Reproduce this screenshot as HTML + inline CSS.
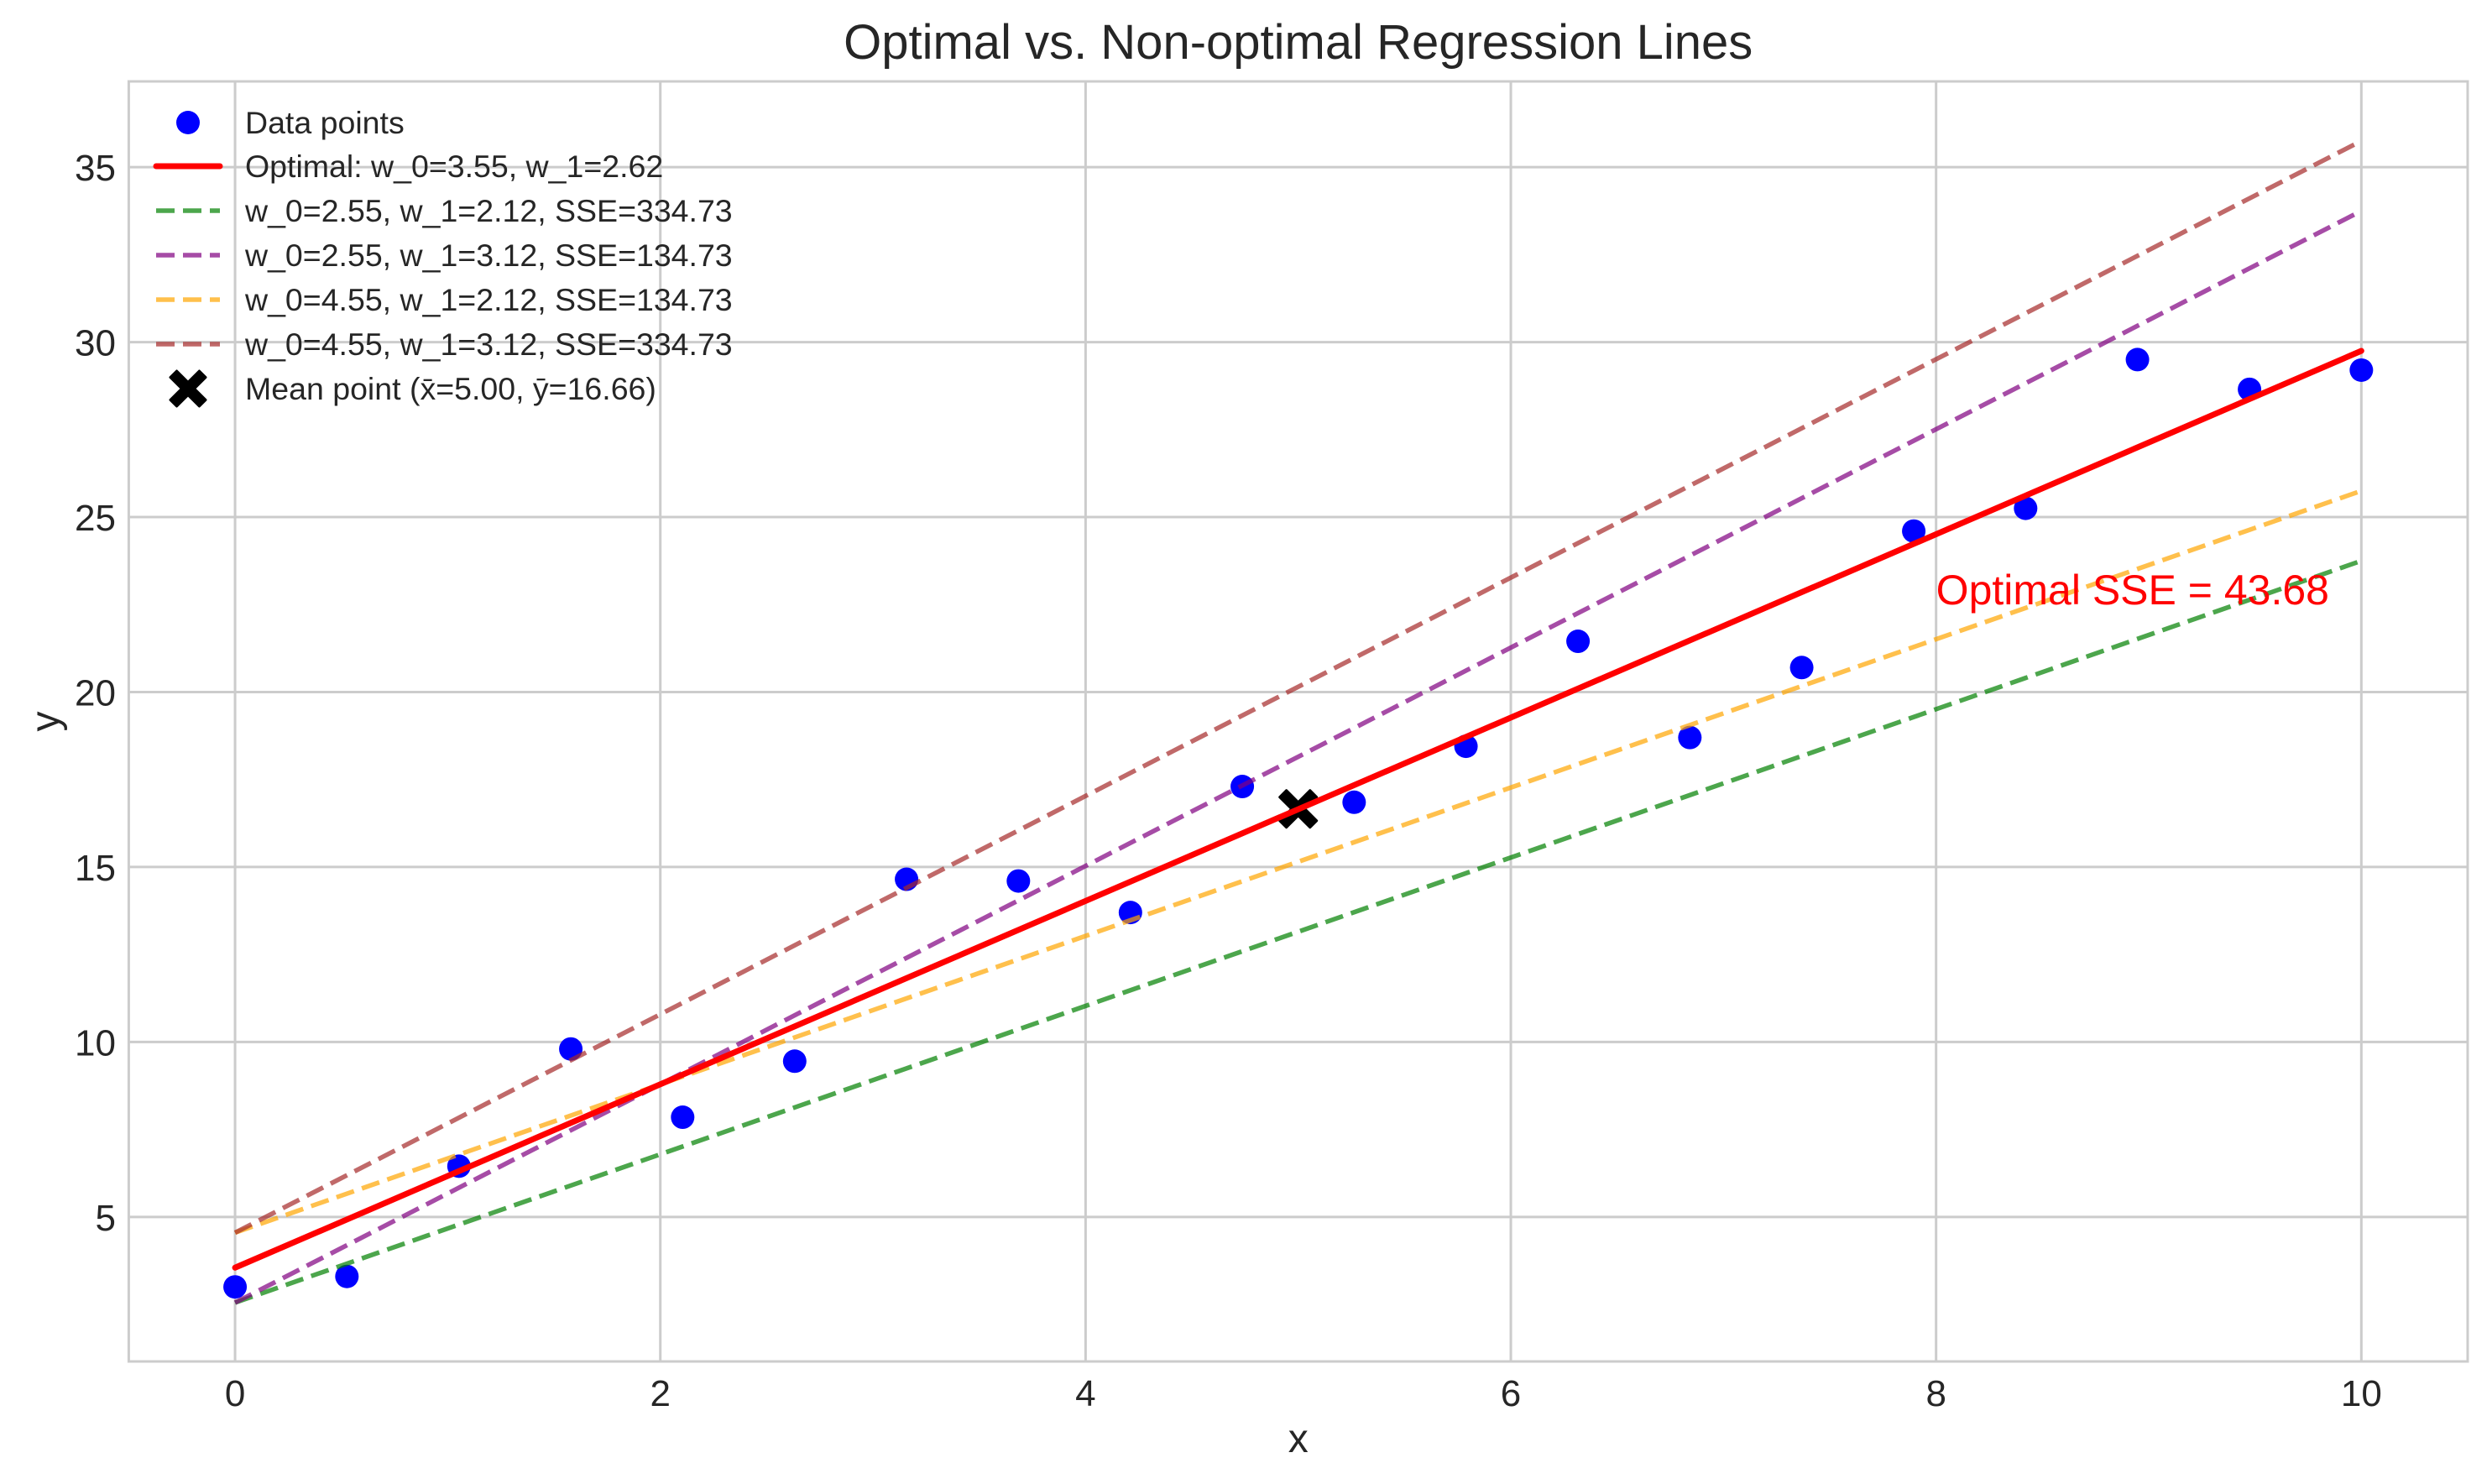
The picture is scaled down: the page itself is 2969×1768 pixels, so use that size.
<!DOCTYPE html>
<html><head><meta charset="utf-8"><style>
html,body{margin:0;padding:0;background:#fff;}
svg{display:block;font-family:"Liberation Sans",Arial,sans-serif;}
</style></head><body>
<svg id="chart" width="2969" height="1768" viewBox="0 0 2969 1768"></svg>
<script>
const xValues = [0,0.526,1.053,1.579,2.105,2.632,3.158,3.684,4.211,4.737,5.263,5.789,6.316,6.842,7.368,7.895,8.421,8.947,9.474,10];
const yValues = [3.0,3.3,6.45,9.8,7.85,9.45,14.65,14.6,13.7,17.3,16.85,18.45,21.45,18.7,20.7,24.6,25.25,29.5,28.65,29.2];
const lineIntercepts = [3.55,2.55,2.55,4.55,4.55];
const lineSlopes = [2.62,2.12,3.12,2.12,3.12];
const lineLabels = ["Optimal: w_0=3.55, w_1=2.62","w_0=2.55, w_1=2.12, SSE=334.73","w_0=2.55, w_1=3.12, SSE=134.73","w_0=4.55, w_1=2.12, SSE=134.73","w_0=4.55, w_1=3.12, SSE=334.73"];
const lineColors = ["#ff0000","#008000","#800080","#ffa500","#a52a2a"];
const meanPoint = [5.00,16.66];
const xTicks = [0,2,4,6,8,10];
const yTicks = [5,10,15,20,25,30,35];
const optimalSSE = "43.68";

const L=153.4,R=2940,T=97,B=1622;
const xMin=-0.5,xMax=10.5,yMin=0.87,yMax=37.45;
const sx=v=>L+(v-xMin)/(xMax-xMin)*(R-L);
const sy=v=>B-(v-yMin)/(yMax-yMin)*(B-T);
const svg=document.getElementById('chart');
const NS="http://www.w3.org/2000/svg";
function mk(tag,attrs,parent){const e=document.createElementNS(NS,tag);for(const k in attrs)e.setAttribute(k,attrs[k]);(parent||svg).appendChild(e);return e;}

xTicks.forEach((t,i)=>{
  const g=mk('line',{x1:sx(t),x2:sx(t),y1:T,y2:B,stroke:'#cccccc','stroke-width':3});
  
  
  const tx=mk('text',{x:sx(t),y:1675,'text-anchor':'middle','font-size':44,fill:'#262626'});
  tx.textContent=t;
  
  
});
yTicks.forEach(t=>{
  const g=mk('line',{x1:L,x2:R,y1:sy(t),y2:sy(t),stroke:'#cccccc','stroke-width':3});
  
  
  const tx=mk('text',{x:138,y:sy(t)+16,'text-anchor':'end','font-size':44,fill:'#262626'});
  tx.textContent=t;
  
  
});
const frame=mk('rect',{x:L,y:T,width:R-L,height:B-T,fill:'none',stroke:'#cccccc','stroke-width':3});



xValues.forEach((x,i)=>{
  const c=mk('circle',{cx:sx(x),cy:sy(yValues[i]),r:14,fill:'#0000ff'});
  
  
});
function xMarker(cx,cy,s,parent){
  const a=s*0.36,b=s;
  const d=`M${cx-b+a},${cy-b} L${cx},${cy-a} L${cx+b-a},${cy-b} L${cx+b},${cy-b+a} L${cx+a},${cy} L${cx+b},${cy+b-a} L${cx+b-a},${cy+b} L${cx},${cy+a} L${cx-b+a},${cy+b} L${cx-b},${cy+b-a} L${cx-a},${cy} L${cx-b},${cy-b+a} Z`;
  return mk('path',{d:d,fill:'#000','stroke':'#000','stroke-width':3,'stroke-linejoin':'round'},parent);
}
const mm=xMarker(sx(meanPoint[0]),sy(meanPoint[1]),22);



[1,2,3,4,0].forEach(i=>{
  const w0=lineIntercepts[i],w1=lineSlopes[i];
  const attrs={x1:sx(0),y1:sy(w0),x2:sx(10),y2:sy(w0+w1*10),stroke:lineColors[i]};
  if(i===0){attrs['stroke-width']=7;attrs['stroke-linecap']='round';}
  else{attrs['stroke-width']=5.5;attrs['stroke-dasharray']='22,10';attrs['stroke-opacity']=0.7;}
  const ln=mk('line',attrs);
  
  
});

const an=mk('text',{x:sx(8),y:sy(22.7)+8,'font-size':50,fill:'#ff0000'});
an.textContent='Optimal SSE = '+optimalSSE;



const rowY=[146,198,251,304,357,410,463];
const lg=mk('g',{});


const e0=mk('circle',{cx:224,cy:rowY[0],r:14,fill:'#0000ff'},lg);


const t0=mk('text',{x:292,y:rowY[0]+13,'font-size':37.5,fill:'#262626'},lg);
t0.textContent='Data points';


lineLabels.forEach((lab,i)=>{
  const y=rowY[i+1];
  const a={x1:186,x2:262,y1:y,y2:y,stroke:lineColors[i]};
  if(i===0){a['stroke-width']=7;a['stroke-linecap']='round';}
  else{a['stroke-width']=5.5;a['stroke-dasharray']='22,10';a['stroke-opacity']=0.7;}
  const h=mk('line',a,lg);
  
  
  const t=mk('text',{x:292,y:y+13,'font-size':37.5,fill:'#262626'},lg);
  t.textContent=lab;
  
  
});
const lm=xMarker(224,rowY[6],21,lg);


const t6=mk('text',{x:292,y:rowY[6]+13,'font-size':37.5,fill:'#262626'},lg);
t6.textContent='Mean point (x\u0304=5.00, y\u0304=16.66)';



const ti=mk('text',{x:(L+R)/2,y:70,'text-anchor':'middle','font-size':58,fill:'#262626'});
ti.textContent='Optimal vs. Non-optimal Regression Lines';


const xl=mk('text',{x:(L+R)/2,y:1730,'text-anchor':'middle','font-size':48,fill:'#262626'});
xl.textContent='x';


const yl=mk('text',{x:70,y:(T+B)/2,'text-anchor':'middle','font-size':48,fill:'#262626',transform:`rotate(-90 70 ${(T+B)/2})`});
yl.textContent='y';


</script>
</body></html>
